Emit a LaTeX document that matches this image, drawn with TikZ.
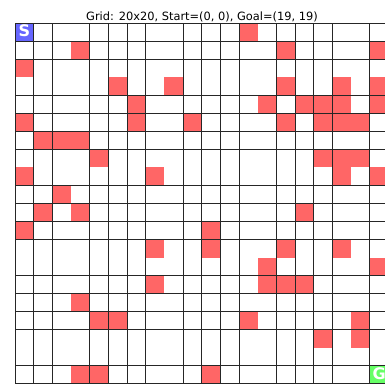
\documentclass[tikz,border=0pt]{standalone}
\usepackage{fontspec}
\setmainfont{DejaVu Sans}
\definecolor{wallred}{RGB}{255,102,102}
\definecolor{startblue}{RGB}{102,102,255}
\definecolor{goalgreen}{RGB}{102,255,102}
\tikzset{
  cellwall/.style={fill=wallred, draw=none},
  gridline/.style={draw=black!85, line width=0.9pt},
  marktext/.style={text=white, font=\fontsize{16}{16}\selectfont\bfseries, inner sep=0pt, anchor=center},
}
\newcommand{\cw}{18.68}
\newcommand{\ch}{18.02}
\newcommand{\gx}{15}
\newcommand{\gy}{23.3}
\begin{document}
\begin{tikzpicture}[x=1pt, y=-1pt]
\useasboundingbox (0,0) rectangle (385,383);
\fill[white] (0,0) rectangle (385,383);
\begin{scope}
\clip (0,0) rectangle (385,383);
% start and goal cells
\fill[startblue] (\gx,\gy) rectangle ++(\cw,\ch);
\fill[goalgreen] ({\gx+19*\cw},{\gy+19*\ch}) rectangle ++(\cw,\ch);
% walls: row/col
\foreach \r/\c in {0/12,
  1/3,1/14,1/19,
  2/0,
  3/5,3/8,3/14,3/17,3/19,
  4/6,4/13,4/15,4/16,4/17,4/19,
  5/0,5/6,5/9,5/14,5/16,5/17,5/18,
  6/1,6/2,6/3,
  7/4,7/16,7/17,7/18,
  8/0,8/7,8/17,8/19,
  9/2,
  10/1,10/3,10/15,
  11/0,11/10,
  12/7,12/10,12/14,12/17,
  13/13,13/19,
  14/7,14/13,14/14,14/15,
  15/3,
  16/4,16/5,16/12,16/18,
  17/16,17/18,
  19/3,19/4,19/10}
  \fill[cellwall] ({\gx+\c*\cw},{\gy+\r*\ch}) rectangle ++(\cw,\ch);
% grid lines (some boundaries not drawn, as in the reference)
\foreach \k in {0,1,2,4,5,6,7,9,10,11,12,14,15,16,17,19,20} {
  \draw[gridline] ({\gx+\k*\cw},\gy) -- ({\gx+\k*\cw},{\gy+20*\ch});
  \draw[gridline] (\gx,{\gy+\k*\ch}) -- ({\gx+20*\cw},{\gy+\k*\ch});
}
\node[marktext] (S) at ({\gx+0.5*\cw},{\gy+0.5*\ch-1.5}) {S};
\node[marktext] (G) at ({\gx+19.5*\cw},{\gy+19.5*\ch-1.5}) {G};
\end{scope}
\node[font=\fontsize{11.4}{12}\selectfont, anchor=base, inner sep=0pt] (title) at (202,20) {Grid: 20x20, Start=(0, 0), Goal=(19, 19)};
\end{tikzpicture}
\end{document}
